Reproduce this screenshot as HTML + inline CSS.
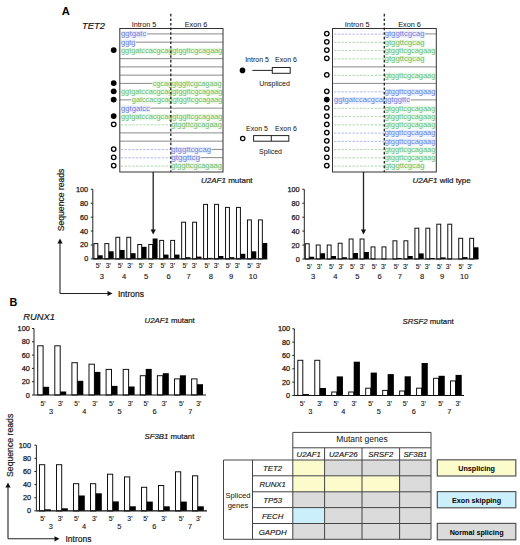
<!DOCTYPE html>
<html><head><meta charset="utf-8"><style>
html,body{margin:0;padding:0;background:#fff;}
body{width:520px;height:545px;overflow:hidden;}
svg{display:block;}
text{font-family:"Liberation Sans", sans-serif;}
.tk{stroke:#222;stroke-width:0.25px;}
.lb{stroke:#222;stroke-width:0.12px;}
.s2{stroke:#222;stroke-width:0.2px;}
.tb{stroke:#222;stroke-width:0.15px;}
</style></head><body>
<svg width="520" height="545" viewBox="0 0 520 545">
<rect width="520" height="545" fill="#fff"/>
<text x="61.8" y="14.7" text-anchor="start" style="font-size:11.2px;font-weight:bold;" fill="#000" font-family='"Liberation Sans", sans-serif' >A</text>
<text x="82" y="29" text-anchor="start" style="font-size:9.4px;font-style:italic;" fill="#111" font-family='"Liberation Sans", sans-serif' class="s2">TET2</text>
<rect x="120.7" y="31.2" width="25.64" height="6.6" fill="#e8ebfa"/>
<text x="121.0" y="36.3" fill="#6d84da" style="font-size:6.4px" font-family='"Liberation Mono", monospace' textLength="25.34" lengthAdjust="spacingAndGlyphs">ggtgatc</text>
<line x1="146.84" y1="33.9" x2="223" y2="33.9" stroke="#8a8a8a" stroke-width="1"/>
<rect x="120.7" y="39.449999999999996" width="14.780000000000001" height="6.6" fill="#e8ebfa"/>
<text x="121.0" y="44.55" fill="#6d84da" style="font-size:6.4px" font-family='"Liberation Mono", monospace' textLength="14.48" lengthAdjust="spacingAndGlyphs">ggtg</text>
<line x1="135.98" y1="42.15" x2="223" y2="42.15" stroke="#8a8a8a" stroke-width="1"/>
<rect x="120.7" y="47.699999999999996" width="101.66" height="6.6" fill="#eaf7e8"/>
<text x="121.0" y="52.8" fill="#70be6c" style="font-size:6.4px" font-family='"Liberation Mono", monospace' textLength="101.36" lengthAdjust="spacingAndGlyphs">ggtgatccacgcaggtggttcgcagaag</text>
<line x1="119.8" y1="58.65" x2="223" y2="58.65" stroke="#8a8a8a" stroke-width="1"/>
<line x1="119.8" y1="66.9" x2="223" y2="66.9" stroke="#8a8a8a" stroke-width="1"/>
<line x1="119.8" y1="75.15" x2="223" y2="75.15" stroke="#8a8a8a" stroke-width="1"/>
<line x1="119.8" y1="83.4" x2="153.00000000000003" y2="83.4" stroke="#8a8a8a" stroke-width="1"/>
<rect x="152.4" y="80.7" width="69.08" height="6.6" fill="#eaf7e8"/>
<text x="152.70000000000002" y="85.80000000000001" fill="#70be6c" style="font-size:6.4px" font-family='"Liberation Mono", monospace' textLength="68.78" lengthAdjust="spacingAndGlyphs">cgcaggtggttcgcagaag</text>
<rect x="120.7" y="88.95" width="101.66" height="6.6" fill="#eaf7e8"/>
<text x="121.0" y="94.05000000000001" fill="#70be6c" style="font-size:6.4px" font-family='"Liberation Mono", monospace' textLength="101.36" lengthAdjust="spacingAndGlyphs">ggtgatccacgcaggtggttcgcagaag</text>
<line x1="119.8" y1="99.9" x2="131.36" y2="99.9" stroke="#8a8a8a" stroke-width="1"/>
<rect x="131.56" y="97.2" width="90.8" height="6.6" fill="#eaf7e8"/>
<text x="131.86" y="102.30000000000001" fill="#70be6c" style="font-size:6.4px" font-family='"Liberation Mono", monospace' textLength="90.5" lengthAdjust="spacingAndGlyphs">gatccacgcaggtggttcgcagaag</text>
<rect x="120.7" y="105.45" width="29.26" height="6.6" fill="#e8ebfa"/>
<text x="121.0" y="110.55000000000001" fill="#6d84da" style="font-size:6.4px" font-family='"Liberation Mono", monospace' textLength="28.96" lengthAdjust="spacingAndGlyphs">ggtgatcc</text>
<line x1="150.46" y1="108.15" x2="223" y2="108.15" stroke="#8a8a8a" stroke-width="1"/>
<rect x="120.7" y="113.7" width="101.66" height="6.6" fill="#eaf7e8"/>
<text x="121.0" y="118.80000000000001" fill="#70be6c" style="font-size:6.4px" font-family='"Liberation Mono", monospace' textLength="101.36" lengthAdjust="spacingAndGlyphs">ggtgatccacgcaggtggttcgcagaag</text>
<line x1="121.0" y1="124.85000000000001" x2="170.3" y2="124.85000000000001" stroke="#70be6c" stroke-width="0.8" stroke-dasharray="2.4,1.3" opacity="0.7"/>
<rect x="170.9" y="121.95" width="50.98" height="6.6" fill="#eaf7e8"/>
<text x="171.20000000000002" y="127.05000000000001" fill="#70be6c" style="font-size:6.4px" font-family='"Liberation Mono", monospace' textLength="50.68" lengthAdjust="spacingAndGlyphs">gtggttcgcagaag</text>
<line x1="119.8" y1="132.9" x2="223" y2="132.9" stroke="#8a8a8a" stroke-width="1"/>
<line x1="119.8" y1="141.15" x2="223" y2="141.15" stroke="#8a8a8a" stroke-width="1"/>
<line x1="121.0" y1="149.6" x2="170.3" y2="149.6" stroke="#6d84da" stroke-width="0.8" stroke-dasharray="2.4,1.3" opacity="0.7"/>
<rect x="170.9" y="146.70000000000002" width="40.12" height="6.6" fill="#e8ebfa"/>
<text x="171.20000000000002" y="151.8" fill="#6d84da" style="font-size:6.4px" font-family='"Liberation Mono", monospace' textLength="39.82" lengthAdjust="spacingAndGlyphs">gtggttcgcag</text>
<line x1="211.52" y1="149.4" x2="223" y2="149.4" stroke="#8a8a8a" stroke-width="1"/>
<line x1="121.0" y1="157.85" x2="170.3" y2="157.85" stroke="#6d84da" stroke-width="0.8" stroke-dasharray="2.4,1.3" opacity="0.7"/>
<rect x="170.9" y="154.95000000000002" width="29.26" height="6.6" fill="#e8ebfa"/>
<text x="171.20000000000002" y="160.05" fill="#6d84da" style="font-size:6.4px" font-family='"Liberation Mono", monospace' textLength="28.96" lengthAdjust="spacingAndGlyphs">gtggttcg</text>
<line x1="200.66000000000003" y1="157.65" x2="223" y2="157.65" stroke="#8a8a8a" stroke-width="1"/>
<line x1="121.0" y1="166.1" x2="170.3" y2="166.1" stroke="#70be6c" stroke-width="0.8" stroke-dasharray="2.4,1.3" opacity="0.7"/>
<rect x="170.9" y="163.20000000000002" width="50.98" height="6.6" fill="#eaf7e8"/>
<text x="171.20000000000002" y="168.3" fill="#70be6c" style="font-size:6.4px" font-family='"Liberation Mono", monospace' textLength="50.68" lengthAdjust="spacingAndGlyphs">gtggttcgcagaag</text>
<circle cx="113.7" cy="50.1" r="2.9" fill="#000"/>
<circle cx="113.7" cy="83.10000000000001" r="2.9" fill="#000"/>
<circle cx="113.7" cy="91.35000000000001" r="2.9" fill="#000"/>
<circle cx="113.7" cy="99.60000000000001" r="2.9" fill="#000"/>
<circle cx="113.7" cy="116.10000000000001" r="2.9" fill="#000"/>
<circle cx="113.7" cy="124.35000000000001" r="2.25" fill="#fff" stroke="#000" stroke-width="1.3"/>
<circle cx="113.7" cy="149.1" r="2.25" fill="#fff" stroke="#000" stroke-width="1.3"/>
<circle cx="113.7" cy="157.35" r="2.25" fill="#fff" stroke="#000" stroke-width="1.3"/>
<circle cx="113.7" cy="165.6" r="2.25" fill="#fff" stroke="#000" stroke-width="1.3"/>
<rect x="119.8" y="28.5" width="103.2" height="143.5" fill="none" stroke="#333" stroke-width="1"/>
<line x1="170.8" y1="13.8" x2="170.8" y2="172" stroke="#222" stroke-width="1.3" stroke-dasharray="2.6,2.0"/>
<text x="144" y="26.7" text-anchor="middle" style="font-size:7.3px;" fill="#111" font-family='"Liberation Sans", sans-serif' >Intron 5</text>
<text x="196" y="26.7" text-anchor="middle" style="font-size:7.3px;" fill="#111" font-family='"Liberation Sans", sans-serif' >Exon 6</text>
<line x1="334.0" y1="34.1" x2="383.8" y2="34.1" stroke="#6d84da" stroke-width="0.8" stroke-dasharray="2.4,1.3" opacity="0.7"/>
<rect x="384.4" y="31.2" width="40.12" height="6.6" fill="#e8ebfa"/>
<text x="384.7" y="36.3" fill="#6d84da" style="font-size:6.4px" font-family='"Liberation Mono", monospace' textLength="39.82" lengthAdjust="spacingAndGlyphs">gtggttcgcag</text>
<line x1="425.02" y1="33.9" x2="436.3" y2="33.9" stroke="#8a8a8a" stroke-width="1"/>
<line x1="334.0" y1="42.35" x2="383.8" y2="42.35" stroke="#70be6c" stroke-width="0.8" stroke-dasharray="2.4,1.3" opacity="0.7"/>
<rect x="384.4" y="39.449999999999996" width="40.12" height="6.6" fill="#eaf7e8"/>
<text x="384.7" y="44.55" fill="#70be6c" style="font-size:6.4px" font-family='"Liberation Mono", monospace' textLength="39.82" lengthAdjust="spacingAndGlyphs">gtggttcgcag</text>
<line x1="334.0" y1="50.6" x2="383.8" y2="50.6" stroke="#70be6c" stroke-width="0.8" stroke-dasharray="2.4,1.3" opacity="0.7"/>
<rect x="384.4" y="47.699999999999996" width="50.98" height="6.6" fill="#eaf7e8"/>
<text x="384.7" y="52.8" fill="#70be6c" style="font-size:6.4px" font-family='"Liberation Mono", monospace' textLength="50.68" lengthAdjust="spacingAndGlyphs">gtggttcgcagaag</text>
<line x1="334.0" y1="58.85" x2="383.8" y2="58.85" stroke="#70be6c" stroke-width="0.8" stroke-dasharray="2.4,1.3" opacity="0.7"/>
<rect x="384.4" y="55.949999999999996" width="40.12" height="6.6" fill="#eaf7e8"/>
<text x="384.7" y="61.05" fill="#70be6c" style="font-size:6.4px" font-family='"Liberation Mono", monospace' textLength="39.82" lengthAdjust="spacingAndGlyphs">gtggttcgcag</text>
<line x1="332.5" y1="66.9" x2="436.3" y2="66.9" stroke="#8a8a8a" stroke-width="1"/>
<line x1="334.0" y1="75.35000000000001" x2="383.8" y2="75.35000000000001" stroke="#70be6c" stroke-width="0.8" stroke-dasharray="2.4,1.3" opacity="0.7"/>
<rect x="384.4" y="72.45" width="50.98" height="6.6" fill="#eaf7e8"/>
<text x="384.7" y="77.55000000000001" fill="#70be6c" style="font-size:6.4px" font-family='"Liberation Mono", monospace' textLength="50.68" lengthAdjust="spacingAndGlyphs">gtggttcgcagaag</text>
<line x1="332.5" y1="83.4" x2="436.3" y2="83.4" stroke="#8a8a8a" stroke-width="1"/>
<line x1="334.0" y1="91.85000000000001" x2="383.8" y2="91.85000000000001" stroke="#6d84da" stroke-width="0.8" stroke-dasharray="2.4,1.3" opacity="0.7"/>
<rect x="384.4" y="88.95" width="50.98" height="6.6" fill="#e8ebfa"/>
<text x="384.7" y="94.05000000000001" fill="#6d84da" style="font-size:6.4px" font-family='"Liberation Mono", monospace' textLength="50.68" lengthAdjust="spacingAndGlyphs">gtggttcgcagaag</text>
<rect x="333.7" y="97.2" width="76.32" height="6.6" fill="#e8ebfa"/>
<text x="334.0" y="102.30000000000001" fill="#6d84da" style="font-size:6.4px" font-family='"Liberation Mono", monospace' textLength="76.02" lengthAdjust="spacingAndGlyphs">ggtgatccacgcaggtggttc</text>
<line x1="410.52" y1="99.9" x2="436.3" y2="99.9" stroke="#8a8a8a" stroke-width="1"/>
<line x1="334.0" y1="108.35000000000001" x2="383.8" y2="108.35000000000001" stroke="#70be6c" stroke-width="0.8" stroke-dasharray="2.4,1.3" opacity="0.7"/>
<rect x="384.4" y="105.45" width="50.98" height="6.6" fill="#eaf7e8"/>
<text x="384.7" y="110.55000000000001" fill="#70be6c" style="font-size:6.4px" font-family='"Liberation Mono", monospace' textLength="50.68" lengthAdjust="spacingAndGlyphs">gtggttcgcagaag</text>
<line x1="334.0" y1="116.60000000000001" x2="383.8" y2="116.60000000000001" stroke="#70be6c" stroke-width="0.8" stroke-dasharray="2.4,1.3" opacity="0.7"/>
<rect x="384.4" y="113.7" width="50.98" height="6.6" fill="#eaf7e8"/>
<text x="384.7" y="118.80000000000001" fill="#70be6c" style="font-size:6.4px" font-family='"Liberation Mono", monospace' textLength="50.68" lengthAdjust="spacingAndGlyphs">gtggttcgcagaag</text>
<line x1="334.0" y1="124.85000000000001" x2="383.8" y2="124.85000000000001" stroke="#70be6c" stroke-width="0.8" stroke-dasharray="2.4,1.3" opacity="0.7"/>
<rect x="384.4" y="121.95" width="50.98" height="6.6" fill="#eaf7e8"/>
<text x="384.7" y="127.05000000000001" fill="#70be6c" style="font-size:6.4px" font-family='"Liberation Mono", monospace' textLength="50.68" lengthAdjust="spacingAndGlyphs">gtggttcgcagaag</text>
<line x1="334.0" y1="133.1" x2="383.8" y2="133.1" stroke="#6d84da" stroke-width="0.8" stroke-dasharray="2.4,1.3" opacity="0.7"/>
<rect x="384.4" y="130.20000000000002" width="50.98" height="6.6" fill="#e8ebfa"/>
<text x="384.7" y="135.3" fill="#6d84da" style="font-size:6.4px" font-family='"Liberation Mono", monospace' textLength="50.68" lengthAdjust="spacingAndGlyphs">gtggttcgcagaag</text>
<line x1="334.0" y1="141.35" x2="383.8" y2="141.35" stroke="#6d84da" stroke-width="0.8" stroke-dasharray="2.4,1.3" opacity="0.7"/>
<rect x="384.4" y="138.45000000000002" width="50.98" height="6.6" fill="#e8ebfa"/>
<text x="384.7" y="143.55" fill="#6d84da" style="font-size:6.4px" font-family='"Liberation Mono", monospace' textLength="50.68" lengthAdjust="spacingAndGlyphs">gtggttcgcagaag</text>
<line x1="334.0" y1="149.6" x2="383.8" y2="149.6" stroke="#70be6c" stroke-width="0.8" stroke-dasharray="2.4,1.3" opacity="0.7"/>
<rect x="384.4" y="146.70000000000002" width="50.98" height="6.6" fill="#eaf7e8"/>
<text x="384.7" y="151.8" fill="#70be6c" style="font-size:6.4px" font-family='"Liberation Mono", monospace' textLength="50.68" lengthAdjust="spacingAndGlyphs">gtggttcgcagaag</text>
<line x1="334.0" y1="157.85" x2="383.8" y2="157.85" stroke="#70be6c" stroke-width="0.8" stroke-dasharray="2.4,1.3" opacity="0.7"/>
<rect x="384.4" y="154.95000000000002" width="50.98" height="6.6" fill="#eaf7e8"/>
<text x="384.7" y="160.05" fill="#70be6c" style="font-size:6.4px" font-family='"Liberation Mono", monospace' textLength="50.68" lengthAdjust="spacingAndGlyphs">gtggttcgcagaag</text>
<line x1="334.0" y1="166.1" x2="383.8" y2="166.1" stroke="#70be6c" stroke-width="0.8" stroke-dasharray="2.4,1.3" opacity="0.7"/>
<rect x="384.4" y="163.20000000000002" width="40.12" height="6.6" fill="#eaf7e8"/>
<text x="384.7" y="168.3" fill="#70be6c" style="font-size:6.4px" font-family='"Liberation Mono", monospace' textLength="39.82" lengthAdjust="spacingAndGlyphs">gtggttcgcag</text>
<circle cx="326.8" cy="33.6" r="2.25" fill="#fff" stroke="#000" stroke-width="1.3"/>
<circle cx="326.8" cy="41.85" r="2.25" fill="#fff" stroke="#000" stroke-width="1.3"/>
<circle cx="326.8" cy="50.1" r="2.25" fill="#fff" stroke="#000" stroke-width="1.3"/>
<circle cx="326.8" cy="58.35" r="2.25" fill="#fff" stroke="#000" stroke-width="1.3"/>
<circle cx="326.8" cy="74.85000000000001" r="2.25" fill="#fff" stroke="#000" stroke-width="1.3"/>
<circle cx="326.8" cy="91.35000000000001" r="2.25" fill="#fff" stroke="#000" stroke-width="1.3"/>
<circle cx="326.8" cy="99.60000000000001" r="2.9" fill="#000"/>
<circle cx="326.8" cy="107.85000000000001" r="2.25" fill="#fff" stroke="#000" stroke-width="1.3"/>
<circle cx="326.8" cy="116.10000000000001" r="2.25" fill="#fff" stroke="#000" stroke-width="1.3"/>
<circle cx="326.8" cy="124.35000000000001" r="2.25" fill="#fff" stroke="#000" stroke-width="1.3"/>
<circle cx="326.8" cy="132.6" r="2.25" fill="#fff" stroke="#000" stroke-width="1.3"/>
<circle cx="326.8" cy="140.85" r="2.25" fill="#fff" stroke="#000" stroke-width="1.3"/>
<circle cx="326.8" cy="149.1" r="2.25" fill="#fff" stroke="#000" stroke-width="1.3"/>
<circle cx="326.8" cy="157.35" r="2.25" fill="#fff" stroke="#000" stroke-width="1.3"/>
<circle cx="326.8" cy="165.6" r="2.25" fill="#fff" stroke="#000" stroke-width="1.3"/>
<rect x="332.5" y="28.5" width="103.80000000000001" height="143.5" fill="none" stroke="#333" stroke-width="1"/>
<line x1="384.3" y1="13.8" x2="384.3" y2="172" stroke="#222" stroke-width="1.3" stroke-dasharray="2.6,2.0"/>
<text x="357.2" y="26.7" text-anchor="middle" style="font-size:7.3px;" fill="#111" font-family='"Liberation Sans", sans-serif' >Intron 5</text>
<text x="409.5" y="26.7" text-anchor="middle" style="font-size:7.3px;" fill="#111" font-family='"Liberation Sans", sans-serif' >Exon 6</text>
<text x="257" y="62" text-anchor="middle" style="font-size:7px;" fill="#111" font-family='"Liberation Sans", sans-serif' >Intron 5</text>
<text x="286" y="62" text-anchor="middle" style="font-size:7px;" fill="#111" font-family='"Liberation Sans", sans-serif' >Exon 6</text>
<circle cx="242.5" cy="70.4" r="2.8" fill="#000"/>
<line x1="252.3" y1="70.4" x2="272.3" y2="70.4" stroke="#222" stroke-width="1"/>
<rect x="272.3" y="67.5" width="17.9" height="5.8" fill="none" stroke="#222" stroke-width="1"/>
<text x="274.5" y="86.3" text-anchor="middle" style="font-size:7px;" fill="#111" font-family='"Liberation Sans", sans-serif' >Unspliced</text>
<text x="257" y="130.8" text-anchor="middle" style="font-size:7px;" fill="#111" font-family='"Liberation Sans", sans-serif' >Exon 5</text>
<text x="286" y="130.8" text-anchor="middle" style="font-size:7px;" fill="#111" font-family='"Liberation Sans", sans-serif' >Exon 6</text>
<circle cx="242.7" cy="138.5" r="2.15" fill="#fff" stroke="#000" stroke-width="1.3"/>
<rect x="253.6" y="135.6" width="35.2" height="5.6" fill="none" stroke="#222" stroke-width="1"/>
<line x1="271.3" y1="135.6" x2="271.3" y2="141.2" stroke="#222" stroke-width="1"/>
<text x="270.5" y="154.2" text-anchor="middle" style="font-size:7px;" fill="#111" font-family='"Liberation Sans", sans-serif' >Spliced</text>
<line x1="153.2" y1="172" x2="153.2" y2="230.5" stroke="#222" stroke-width="1.3"/>
<path d="M150.6,229.5 L155.79999999999998,229.5 L153.2,234.5 Z" fill="#111"/>
<line x1="363.5" y1="172" x2="363.5" y2="230.5" stroke="#222" stroke-width="1.3"/>
<path d="M360.9,229.5 L366.1,229.5 L363.5,234.5 Z" fill="#111"/>
<line x1="92.8" y1="189.3" x2="92.8" y2="258.9" stroke="#222" stroke-width="1"/>
<line x1="90.8" y1="258.9" x2="92.8" y2="258.9" stroke="#222" stroke-width="1"/>
<text x="88.2" y="261.4" text-anchor="end" style="font-size:7.3px;" fill="#111" font-family='"Liberation Sans", sans-serif' class="tk">0</text>
<line x1="90.8" y1="244.98" x2="92.8" y2="244.98" stroke="#222" stroke-width="1"/>
<text x="88.2" y="247.48" text-anchor="end" style="font-size:7.3px;" fill="#111" font-family='"Liberation Sans", sans-serif' class="tk">20</text>
<line x1="90.8" y1="231.06" x2="92.8" y2="231.06" stroke="#222" stroke-width="1"/>
<text x="88.2" y="233.56" text-anchor="end" style="font-size:7.3px;" fill="#111" font-family='"Liberation Sans", sans-serif' class="tk">40</text>
<line x1="90.8" y1="217.14" x2="92.8" y2="217.14" stroke="#222" stroke-width="1"/>
<text x="88.2" y="219.64" text-anchor="end" style="font-size:7.3px;" fill="#111" font-family='"Liberation Sans", sans-serif' class="tk">60</text>
<line x1="90.8" y1="203.22" x2="92.8" y2="203.22" stroke="#222" stroke-width="1"/>
<text x="88.2" y="205.72" text-anchor="end" style="font-size:7.3px;" fill="#111" font-family='"Liberation Sans", sans-serif' class="tk">80</text>
<line x1="90.8" y1="189.3" x2="92.8" y2="189.3" stroke="#222" stroke-width="1"/>
<text x="88.2" y="191.8" text-anchor="end" style="font-size:7.3px;" fill="#111" font-family='"Liberation Sans", sans-serif' class="tk">100</text>
<rect x="93.9" y="243.59999999999997" width="3.9000000000000004" height="15.3" fill="#fff" stroke="#111" stroke-width="1"/>
<rect x="97.80000000000001" y="255.29999999999998" width="4.9" height="3.6" fill="#000"/>
<text x="98.2" y="268.4" text-anchor="middle" style="font-size:6.8px;" fill="#111" font-family='"Liberation Sans", sans-serif' class="lb">5'</text>
<rect x="104.87" y="243.59999999999997" width="3.9000000000000004" height="15.3" fill="#fff" stroke="#111" stroke-width="1"/>
<rect x="108.77000000000001" y="251.29999999999998" width="4.9" height="7.6" fill="#000"/>
<text x="108.2" y="268.4" text-anchor="middle" style="font-size:6.8px;" fill="#111" font-family='"Liberation Sans", sans-serif' class="lb">3'</text>
<rect x="115.84" y="237.29999999999998" width="3.9000000000000004" height="21.6" fill="#fff" stroke="#111" stroke-width="1"/>
<rect x="119.74000000000001" y="249.99999999999997" width="4.9" height="8.9" fill="#000"/>
<text x="120.3" y="268.4" text-anchor="middle" style="font-size:6.8px;" fill="#111" font-family='"Liberation Sans", sans-serif' class="lb">5'</text>
<rect x="126.81" y="237.29999999999998" width="3.9000000000000004" height="21.6" fill="#fff" stroke="#111" stroke-width="1"/>
<rect x="130.71" y="253.2" width="4.9" height="5.7" fill="#000"/>
<text x="129.9" y="268.4" text-anchor="middle" style="font-size:6.8px;" fill="#111" font-family='"Liberation Sans", sans-serif' class="lb">3'</text>
<rect x="137.78" y="244.49999999999997" width="3.9000000000000004" height="14.4" fill="#fff" stroke="#111" stroke-width="1"/>
<rect x="141.68" y="246.79999999999998" width="4.9" height="12.1" fill="#000"/>
<text x="141.3" y="268.4" text-anchor="middle" style="font-size:6.8px;" fill="#111" font-family='"Liberation Sans", sans-serif' class="lb">5'</text>
<rect x="148.75" y="244.49999999999997" width="3.9000000000000004" height="14.4" fill="#fff" stroke="#111" stroke-width="1"/>
<rect x="152.65" y="238.49999999999997" width="4.9" height="20.4" fill="#000"/>
<text x="151.1" y="268.4" text-anchor="middle" style="font-size:6.8px;" fill="#111" font-family='"Liberation Sans", sans-serif' class="lb">3'</text>
<rect x="159.72000000000003" y="240.39999999999998" width="3.9000000000000004" height="18.5" fill="#fff" stroke="#111" stroke-width="1"/>
<rect x="163.62000000000003" y="254.59999999999997" width="4.9" height="4.3" fill="#000"/>
<text x="163" y="268.4" text-anchor="middle" style="font-size:6.8px;" fill="#111" font-family='"Liberation Sans", sans-serif' class="lb">5'</text>
<rect x="170.69" y="240.39999999999998" width="3.9000000000000004" height="18.5" fill="#fff" stroke="#111" stroke-width="1"/>
<rect x="174.59" y="254.59999999999997" width="4.9" height="4.3" fill="#000"/>
<text x="172.4" y="268.4" text-anchor="middle" style="font-size:6.8px;" fill="#111" font-family='"Liberation Sans", sans-serif' class="lb">3'</text>
<rect x="181.66000000000003" y="222.2" width="3.9000000000000004" height="36.7" fill="#fff" stroke="#111" stroke-width="1"/>
<rect x="185.56000000000003" y="257.2" width="4.9" height="1.7" fill="#000"/>
<text x="185.1" y="268.4" text-anchor="middle" style="font-size:6.8px;" fill="#111" font-family='"Liberation Sans", sans-serif' class="lb">5'</text>
<rect x="192.63" y="222.2" width="3.9000000000000004" height="36.7" fill="#fff" stroke="#111" stroke-width="1"/>
<rect x="196.53" y="256.59999999999997" width="4.9" height="2.3" fill="#000"/>
<text x="194.4" y="268.4" text-anchor="middle" style="font-size:6.8px;" fill="#111" font-family='"Liberation Sans", sans-serif' class="lb">3'</text>
<rect x="203.60000000000002" y="204.39999999999998" width="3.9000000000000004" height="54.5" fill="#fff" stroke="#111" stroke-width="1"/>
<rect x="207.50000000000003" y="257.9" width="4.9" height="1.0" fill="#000"/>
<text x="207" y="268.4" text-anchor="middle" style="font-size:6.8px;" fill="#111" font-family='"Liberation Sans", sans-serif' class="lb">5'</text>
<rect x="214.57" y="204.39999999999998" width="3.9000000000000004" height="54.5" fill="#fff" stroke="#111" stroke-width="1"/>
<rect x="218.47" y="255.99999999999997" width="4.9" height="2.9" fill="#000"/>
<text x="216.2" y="268.4" text-anchor="middle" style="font-size:6.8px;" fill="#111" font-family='"Liberation Sans", sans-serif' class="lb">3'</text>
<rect x="225.54000000000002" y="207.39999999999998" width="3.9000000000000004" height="51.5" fill="#fff" stroke="#111" stroke-width="1"/>
<rect x="229.44000000000003" y="257.2" width="4.9" height="1.7" fill="#000"/>
<text x="228.3" y="268.4" text-anchor="middle" style="font-size:6.8px;" fill="#111" font-family='"Liberation Sans", sans-serif' class="lb">5'</text>
<rect x="236.51000000000002" y="207.39999999999998" width="3.9000000000000004" height="51.5" fill="#fff" stroke="#111" stroke-width="1"/>
<rect x="240.41000000000003" y="253.79999999999998" width="4.9" height="5.1" fill="#000"/>
<text x="237.2" y="268.4" text-anchor="middle" style="font-size:6.8px;" fill="#111" font-family='"Liberation Sans", sans-serif' class="lb">3'</text>
<rect x="247.48000000000002" y="219.89999999999998" width="3.9000000000000004" height="39" fill="#fff" stroke="#111" stroke-width="1"/>
<rect x="251.38000000000002" y="251.29999999999998" width="4.9" height="7.6" fill="#000"/>
<text x="249.9" y="268.4" text-anchor="middle" style="font-size:6.8px;" fill="#111" font-family='"Liberation Sans", sans-serif' class="lb">5'</text>
<rect x="258.45000000000005" y="219.89999999999998" width="3.9000000000000004" height="39" fill="#fff" stroke="#111" stroke-width="1"/>
<rect x="262.35" y="242.99999999999997" width="4.9" height="15.9" fill="#000"/>
<text x="258.6" y="268.4" text-anchor="middle" style="font-size:6.8px;" fill="#111" font-family='"Liberation Sans", sans-serif' class="lb">3'</text>
<line x1="92.8" y1="258.9" x2="267.25" y2="258.9" stroke="#111" stroke-width="1.2"/>
<text x="101.8" y="278.5" text-anchor="middle" style="font-size:7.6px;" fill="#111" font-family='"Liberation Sans", sans-serif' class="lb">3</text>
<text x="124.1" y="278.5" text-anchor="middle" style="font-size:7.6px;" fill="#111" font-family='"Liberation Sans", sans-serif' class="lb">4</text>
<text x="146.2" y="278.5" text-anchor="middle" style="font-size:7.6px;" fill="#111" font-family='"Liberation Sans", sans-serif' class="lb">5</text>
<text x="168.5" y="278.5" text-anchor="middle" style="font-size:7.6px;" fill="#111" font-family='"Liberation Sans", sans-serif' class="lb">6</text>
<text x="188.7" y="278.5" text-anchor="middle" style="font-size:7.6px;" fill="#111" font-family='"Liberation Sans", sans-serif' class="lb">7</text>
<text x="210.8" y="278.5" text-anchor="middle" style="font-size:7.6px;" fill="#111" font-family='"Liberation Sans", sans-serif' class="lb">8</text>
<text x="231" y="278.5" text-anchor="middle" style="font-size:7.6px;" fill="#111" font-family='"Liberation Sans", sans-serif' class="lb">9</text>
<text x="253" y="278.5" text-anchor="middle" style="font-size:7.6px;" fill="#111" font-family='"Liberation Sans", sans-serif' class="lb">10</text>
<line x1="304.3" y1="189.3" x2="304.3" y2="259.0" stroke="#222" stroke-width="1"/>
<line x1="302.3" y1="259.0" x2="304.3" y2="259.0" stroke="#222" stroke-width="1"/>
<text x="299.7" y="261.5" text-anchor="end" style="font-size:7.3px;" fill="#111" font-family='"Liberation Sans", sans-serif' class="tk">0</text>
<line x1="302.3" y1="245.06" x2="304.3" y2="245.06" stroke="#222" stroke-width="1"/>
<text x="299.7" y="247.56" text-anchor="end" style="font-size:7.3px;" fill="#111" font-family='"Liberation Sans", sans-serif' class="tk">20</text>
<line x1="302.3" y1="231.12" x2="304.3" y2="231.12" stroke="#222" stroke-width="1"/>
<text x="299.7" y="233.62" text-anchor="end" style="font-size:7.3px;" fill="#111" font-family='"Liberation Sans", sans-serif' class="tk">40</text>
<line x1="302.3" y1="217.18" x2="304.3" y2="217.18" stroke="#222" stroke-width="1"/>
<text x="299.7" y="219.68" text-anchor="end" style="font-size:7.3px;" fill="#111" font-family='"Liberation Sans", sans-serif' class="tk">60</text>
<line x1="302.3" y1="203.24" x2="304.3" y2="203.24" stroke="#222" stroke-width="1"/>
<text x="299.7" y="205.74" text-anchor="end" style="font-size:7.3px;" fill="#111" font-family='"Liberation Sans", sans-serif' class="tk">80</text>
<line x1="302.3" y1="189.3" x2="304.3" y2="189.3" stroke="#222" stroke-width="1"/>
<text x="299.7" y="191.8" text-anchor="end" style="font-size:7.3px;" fill="#111" font-family='"Liberation Sans", sans-serif' class="tk">100</text>
<rect x="305.3" y="243.75" width="3.9000000000000004" height="15.25" fill="#fff" stroke="#111" stroke-width="1"/>
<rect x="309.2" y="256.75" width="4.9" height="2.25" fill="#000"/>
<text x="309.4" y="268.8" text-anchor="middle" style="font-size:6.8px;" fill="#111" font-family='"Liberation Sans", sans-serif' class="lb">5'</text>
<rect x="316.26" y="245.0" width="3.9000000000000004" height="14" fill="#fff" stroke="#111" stroke-width="1"/>
<rect x="320.15999999999997" y="253.25" width="4.9" height="5.75" fill="#000"/>
<text x="319.4" y="268.8" text-anchor="middle" style="font-size:6.8px;" fill="#111" font-family='"Liberation Sans", sans-serif' class="lb">3'</text>
<rect x="327.22" y="245.0" width="3.9000000000000004" height="14" fill="#fff" stroke="#111" stroke-width="1"/>
<rect x="331.12" y="256.0" width="4.9" height="3" fill="#000"/>
<text x="331.5" y="268.8" text-anchor="middle" style="font-size:6.8px;" fill="#111" font-family='"Liberation Sans", sans-serif' class="lb">5'</text>
<rect x="338.18" y="243.25" width="3.9000000000000004" height="15.75" fill="#fff" stroke="#111" stroke-width="1"/>
<rect x="342.08" y="257.25" width="4.9" height="1.75" fill="#000"/>
<text x="341.1" y="268.8" text-anchor="middle" style="font-size:6.8px;" fill="#111" font-family='"Liberation Sans", sans-serif' class="lb">3'</text>
<rect x="349.14" y="239.0" width="3.9000000000000004" height="20" fill="#fff" stroke="#111" stroke-width="1"/>
<rect x="353.03999999999996" y="253.0" width="4.9" height="6" fill="#000"/>
<text x="352.5" y="268.8" text-anchor="middle" style="font-size:6.8px;" fill="#111" font-family='"Liberation Sans", sans-serif' class="lb">5'</text>
<rect x="360.1" y="239.0" width="3.9000000000000004" height="20" fill="#fff" stroke="#111" stroke-width="1"/>
<rect x="364.0" y="252.0" width="4.9" height="7" fill="#000"/>
<text x="362.29999999999995" y="268.8" text-anchor="middle" style="font-size:6.8px;" fill="#111" font-family='"Liberation Sans", sans-serif' class="lb">3'</text>
<rect x="371.06" y="246.9" width="3.9000000000000004" height="12.1" fill="#fff" stroke="#111" stroke-width="1"/>
<text x="374.2" y="268.8" text-anchor="middle" style="font-size:6.8px;" fill="#111" font-family='"Liberation Sans", sans-serif' class="lb">5'</text>
<rect x="382.02" y="246.9" width="3.9000000000000004" height="12.1" fill="#fff" stroke="#111" stroke-width="1"/>
<text x="383.6" y="268.8" text-anchor="middle" style="font-size:6.8px;" fill="#111" font-family='"Liberation Sans", sans-serif' class="lb">3'</text>
<rect x="392.98" y="240.8" width="3.9000000000000004" height="18.2" fill="#fff" stroke="#111" stroke-width="1"/>
<rect x="396.88" y="258.0" width="4.9" height="1" fill="#000"/>
<text x="396.29999999999995" y="268.8" text-anchor="middle" style="font-size:6.8px;" fill="#111" font-family='"Liberation Sans", sans-serif' class="lb">5'</text>
<rect x="403.94000000000005" y="240.8" width="3.9000000000000004" height="18.2" fill="#fff" stroke="#111" stroke-width="1"/>
<rect x="407.84000000000003" y="256.0" width="4.9" height="3" fill="#000"/>
<text x="405.6" y="268.8" text-anchor="middle" style="font-size:6.8px;" fill="#111" font-family='"Liberation Sans", sans-serif' class="lb">3'</text>
<rect x="414.90000000000003" y="228.2" width="3.9000000000000004" height="30.8" fill="#fff" stroke="#111" stroke-width="1"/>
<rect x="418.8" y="253.4" width="4.9" height="5.6" fill="#000"/>
<text x="418.2" y="268.8" text-anchor="middle" style="font-size:6.8px;" fill="#111" font-family='"Liberation Sans", sans-serif' class="lb">5'</text>
<rect x="425.86" y="228.2" width="3.9000000000000004" height="30.8" fill="#fff" stroke="#111" stroke-width="1"/>
<rect x="429.76" y="258.0" width="4.9" height="1" fill="#000"/>
<text x="427.4" y="268.8" text-anchor="middle" style="font-size:6.8px;" fill="#111" font-family='"Liberation Sans", sans-serif' class="lb">3'</text>
<rect x="436.82000000000005" y="224.2" width="3.9000000000000004" height="34.8" fill="#fff" stroke="#111" stroke-width="1"/>
<rect x="440.72" y="257.4" width="4.9" height="1.6" fill="#000"/>
<text x="439.5" y="268.8" text-anchor="middle" style="font-size:6.8px;" fill="#111" font-family='"Liberation Sans", sans-serif' class="lb">5'</text>
<rect x="447.78000000000003" y="224.2" width="3.9000000000000004" height="34.8" fill="#fff" stroke="#111" stroke-width="1"/>
<text x="448.4" y="268.8" text-anchor="middle" style="font-size:6.8px;" fill="#111" font-family='"Liberation Sans", sans-serif' class="lb">3'</text>
<rect x="458.74" y="238.3" width="3.9000000000000004" height="20.7" fill="#fff" stroke="#111" stroke-width="1"/>
<rect x="462.64" y="257.1" width="4.9" height="1.9" fill="#000"/>
<text x="461.1" y="268.8" text-anchor="middle" style="font-size:6.8px;" fill="#111" font-family='"Liberation Sans", sans-serif' class="lb">5'</text>
<rect x="469.70000000000005" y="238.3" width="3.9000000000000004" height="20.7" fill="#fff" stroke="#111" stroke-width="1"/>
<rect x="473.6" y="247.3" width="4.9" height="11.7" fill="#000"/>
<text x="469.8" y="268.8" text-anchor="middle" style="font-size:6.8px;" fill="#111" font-family='"Liberation Sans", sans-serif' class="lb">3'</text>
<line x1="304.3" y1="259.0" x2="478.5" y2="259.0" stroke="#111" stroke-width="1.2"/>
<text x="313.0" y="278.5" text-anchor="middle" style="font-size:7.6px;" fill="#111" font-family='"Liberation Sans", sans-serif' class="lb">3</text>
<text x="335.29999999999995" y="278.5" text-anchor="middle" style="font-size:7.6px;" fill="#111" font-family='"Liberation Sans", sans-serif' class="lb">4</text>
<text x="357.4" y="278.5" text-anchor="middle" style="font-size:7.6px;" fill="#111" font-family='"Liberation Sans", sans-serif' class="lb">5</text>
<text x="379.7" y="278.5" text-anchor="middle" style="font-size:7.6px;" fill="#111" font-family='"Liberation Sans", sans-serif' class="lb">6</text>
<text x="399.9" y="278.5" text-anchor="middle" style="font-size:7.6px;" fill="#111" font-family='"Liberation Sans", sans-serif' class="lb">7</text>
<text x="422.0" y="278.5" text-anchor="middle" style="font-size:7.6px;" fill="#111" font-family='"Liberation Sans", sans-serif' class="lb">8</text>
<text x="442.2" y="278.5" text-anchor="middle" style="font-size:7.6px;" fill="#111" font-family='"Liberation Sans", sans-serif' class="lb">9</text>
<text x="464.2" y="278.5" text-anchor="middle" style="font-size:7.6px;" fill="#111" font-family='"Liberation Sans", sans-serif' class="lb">10</text>
<text class="s2" x="201" y="182.9" style="font-size:8px" font-family='"Liberation Sans", sans-serif' fill="#111"><tspan font-style="italic">U2AF1</tspan> mutant</text>
<text class="s2" x="412.5" y="182.6" style="font-size:8px" font-family='"Liberation Sans", sans-serif' fill="#111"><tspan font-style="italic">U2AF1</tspan> wild type</text>
<text class="s2" transform="translate(63.8,231.2) rotate(-90)" style="font-size:8.6px" font-family='"Liberation Sans", sans-serif' fill="#111">Sequence reads</text>
<line x1="60" y1="293.5" x2="60" y2="242.5" stroke="#222" stroke-width="1.1"/>
<path d="M57.4,243.5 L62.6,243.5 L60,238.5 Z" fill="#111"/>
<line x1="60" y1="293.5" x2="108.5" y2="293.5" stroke="#222" stroke-width="1.1"/>
<path d="M107.5,290.9 L107.5,296.1 L112.5,293.5 Z" fill="#111"/>
<text x="118" y="297" text-anchor="start" style="font-size:8.5px;" fill="#111" font-family='"Liberation Sans", sans-serif' class="s2">Introns</text>
<text x="9.4" y="305.7" text-anchor="start" style="font-size:10.8px;font-weight:bold;" fill="#000" font-family='"Liberation Sans", sans-serif' >B</text>
<text x="23.2" y="319.5" text-anchor="start" style="font-size:9.4px;font-style:italic;" fill="#111" font-family='"Liberation Sans", sans-serif' class="s2">RUNX1</text>
<line x1="34.0" y1="328.5" x2="34.0" y2="395.0" stroke="#222" stroke-width="1"/>
<line x1="32.0" y1="395.0" x2="34.0" y2="395.0" stroke="#222" stroke-width="1"/>
<text x="29.8" y="397.5" text-anchor="end" style="font-size:7.3px;" fill="#111" font-family='"Liberation Sans", sans-serif' class="tk">0</text>
<line x1="32.0" y1="381.7" x2="34.0" y2="381.7" stroke="#222" stroke-width="1"/>
<text x="29.8" y="384.2" text-anchor="end" style="font-size:7.3px;" fill="#111" font-family='"Liberation Sans", sans-serif' class="tk">20</text>
<line x1="32.0" y1="368.4" x2="34.0" y2="368.4" stroke="#222" stroke-width="1"/>
<text x="29.8" y="370.9" text-anchor="end" style="font-size:7.3px;" fill="#111" font-family='"Liberation Sans", sans-serif' class="tk">40</text>
<line x1="32.0" y1="355.1" x2="34.0" y2="355.1" stroke="#222" stroke-width="1"/>
<text x="29.8" y="357.6" text-anchor="end" style="font-size:7.3px;" fill="#111" font-family='"Liberation Sans", sans-serif' class="tk">60</text>
<line x1="32.0" y1="341.8" x2="34.0" y2="341.8" stroke="#222" stroke-width="1"/>
<text x="29.8" y="344.3" text-anchor="end" style="font-size:7.3px;" fill="#111" font-family='"Liberation Sans", sans-serif' class="tk">80</text>
<line x1="32.0" y1="328.5" x2="34.0" y2="328.5" stroke="#222" stroke-width="1"/>
<text x="29.8" y="331.0" text-anchor="end" style="font-size:7.3px;" fill="#111" font-family='"Liberation Sans", sans-serif' class="tk">100</text>
<rect x="37.7" y="345.8" width="5.4" height="49.2" fill="#fff" stroke="#111" stroke-width="1"/>
<rect x="43.1" y="386.8" width="6.0" height="8.2" fill="#000"/>
<text x="43" y="405.5" text-anchor="middle" style="font-size:6.8px;" fill="#111" font-family='"Liberation Sans", sans-serif' class="lb">5'</text>
<rect x="54.800000000000004" y="345.8" width="5.4" height="49.2" fill="#fff" stroke="#111" stroke-width="1"/>
<rect x="60.2" y="391.5" width="6.0" height="3.5" fill="#000"/>
<text x="60.5" y="405.5" text-anchor="middle" style="font-size:6.8px;" fill="#111" font-family='"Liberation Sans", sans-serif' class="lb">3'</text>
<rect x="71.9" y="362.7" width="5.4" height="32.3" fill="#fff" stroke="#111" stroke-width="1"/>
<rect x="77.30000000000001" y="380.8" width="6.0" height="14.2" fill="#000"/>
<text x="76.9" y="405.5" text-anchor="middle" style="font-size:6.8px;" fill="#111" font-family='"Liberation Sans", sans-serif' class="lb">5'</text>
<rect x="89.0" y="364.2" width="5.4" height="30.8" fill="#fff" stroke="#111" stroke-width="1"/>
<rect x="94.4" y="371.9" width="6.0" height="23.1" fill="#000"/>
<text x="94.9" y="405.5" text-anchor="middle" style="font-size:6.8px;" fill="#111" font-family='"Liberation Sans", sans-serif' class="lb">3'</text>
<rect x="106.10000000000001" y="369.4" width="5.4" height="25.6" fill="#fff" stroke="#111" stroke-width="1"/>
<rect x="111.50000000000001" y="385.9" width="6.0" height="9.1" fill="#000"/>
<text x="111.5" y="405.5" text-anchor="middle" style="font-size:6.8px;" fill="#111" font-family='"Liberation Sans", sans-serif' class="lb">5'</text>
<rect x="123.2" y="369.4" width="5.4" height="25.6" fill="#fff" stroke="#111" stroke-width="1"/>
<rect x="128.6" y="386.5" width="6.0" height="8.5" fill="#000"/>
<text x="130.2" y="405.5" text-anchor="middle" style="font-size:6.8px;" fill="#111" font-family='"Liberation Sans", sans-serif' class="lb">3'</text>
<rect x="140.3" y="375.7" width="5.4" height="19.3" fill="#fff" stroke="#111" stroke-width="1"/>
<rect x="145.70000000000002" y="368.9" width="6.0" height="26.1" fill="#000"/>
<text x="146" y="405.5" text-anchor="middle" style="font-size:6.8px;" fill="#111" font-family='"Liberation Sans", sans-serif' class="lb">5'</text>
<rect x="157.40000000000003" y="375.7" width="5.4" height="19.3" fill="#fff" stroke="#111" stroke-width="1"/>
<rect x="162.80000000000004" y="373.2" width="6.0" height="21.8" fill="#000"/>
<text x="164.2" y="405.5" text-anchor="middle" style="font-size:6.8px;" fill="#111" font-family='"Liberation Sans", sans-serif' class="lb">3'</text>
<rect x="174.5" y="378.9" width="5.4" height="16.1" fill="#fff" stroke="#111" stroke-width="1"/>
<rect x="179.9" y="375.3" width="6.0" height="19.7" fill="#000"/>
<text x="181.5" y="405.5" text-anchor="middle" style="font-size:6.8px;" fill="#111" font-family='"Liberation Sans", sans-serif' class="lb">5'</text>
<rect x="191.60000000000002" y="378.9" width="5.4" height="16.1" fill="#fff" stroke="#111" stroke-width="1"/>
<rect x="197.00000000000003" y="384.2" width="6.0" height="10.8" fill="#000"/>
<text x="198.8" y="405.5" text-anchor="middle" style="font-size:6.8px;" fill="#111" font-family='"Liberation Sans", sans-serif' class="lb">3'</text>
<line x1="34.0" y1="395.0" x2="206" y2="395.0" stroke="#111" stroke-width="1.2"/>
<text x="51.1" y="413.9" text-anchor="middle" style="font-size:7.4px;" fill="#111" font-family='"Liberation Sans", sans-serif' class="lb">3</text>
<text x="84.2" y="413.9" text-anchor="middle" style="font-size:7.4px;" fill="#111" font-family='"Liberation Sans", sans-serif' class="lb">4</text>
<text x="119.6" y="413.9" text-anchor="middle" style="font-size:7.4px;" fill="#111" font-family='"Liberation Sans", sans-serif' class="lb">5</text>
<text x="154.6" y="413.9" text-anchor="middle" style="font-size:7.4px;" fill="#111" font-family='"Liberation Sans", sans-serif' class="lb">6</text>
<text x="190.2" y="413.9" text-anchor="middle" style="font-size:7.4px;" fill="#111" font-family='"Liberation Sans", sans-serif' class="lb">7</text>
<text class="s2" x="144.5" y="323.3" style="font-size:7.8px" font-family='"Liberation Sans", sans-serif' fill="#111"><tspan font-style="italic">U2AF1</tspan> mutant</text>
<line x1="294.3" y1="328.8" x2="294.3" y2="395.5" stroke="#222" stroke-width="1"/>
<line x1="292.3" y1="395.5" x2="294.3" y2="395.5" stroke="#222" stroke-width="1"/>
<text x="290.1" y="398.0" text-anchor="end" style="font-size:7.3px;" fill="#111" font-family='"Liberation Sans", sans-serif' class="tk">0</text>
<line x1="292.3" y1="382.16" x2="294.3" y2="382.16" stroke="#222" stroke-width="1"/>
<text x="290.1" y="384.66" text-anchor="end" style="font-size:7.3px;" fill="#111" font-family='"Liberation Sans", sans-serif' class="tk">20</text>
<line x1="292.3" y1="368.82" x2="294.3" y2="368.82" stroke="#222" stroke-width="1"/>
<text x="290.1" y="371.32" text-anchor="end" style="font-size:7.3px;" fill="#111" font-family='"Liberation Sans", sans-serif' class="tk">40</text>
<line x1="292.3" y1="355.48" x2="294.3" y2="355.48" stroke="#222" stroke-width="1"/>
<text x="290.1" y="357.98" text-anchor="end" style="font-size:7.3px;" fill="#111" font-family='"Liberation Sans", sans-serif' class="tk">60</text>
<line x1="292.3" y1="342.14" x2="294.3" y2="342.14" stroke="#222" stroke-width="1"/>
<text x="290.1" y="344.64" text-anchor="end" style="font-size:7.3px;" fill="#111" font-family='"Liberation Sans", sans-serif' class="tk">80</text>
<line x1="292.3" y1="328.8" x2="294.3" y2="328.8" stroke="#222" stroke-width="1"/>
<text x="290.1" y="331.3" text-anchor="end" style="font-size:7.3px;" fill="#111" font-family='"Liberation Sans", sans-serif' class="tk">100</text>
<rect x="297.8" y="360.3" width="5.0" height="35.2" fill="#fff" stroke="#111" stroke-width="1"/>
<rect x="302.8" y="394.1" width="6.2" height="1.4" fill="#000"/>
<text x="302.2" y="405.5" text-anchor="middle" style="font-size:6.8px;" fill="#111" font-family='"Liberation Sans", sans-serif' class="lb">5'</text>
<rect x="314.77" y="360.3" width="5.0" height="35.2" fill="#fff" stroke="#111" stroke-width="1"/>
<rect x="319.77" y="388.0" width="6.2" height="7.5" fill="#000"/>
<text x="319.7" y="405.5" text-anchor="middle" style="font-size:6.8px;" fill="#111" font-family='"Liberation Sans", sans-serif' class="lb">3'</text>
<rect x="331.74" y="392.0" width="5.0" height="3.5" fill="#fff" stroke="#111" stroke-width="1"/>
<rect x="336.74" y="376.4" width="6.2" height="19.1" fill="#000"/>
<text x="336.1" y="405.5" text-anchor="middle" style="font-size:6.8px;" fill="#111" font-family='"Liberation Sans", sans-serif' class="lb">5'</text>
<rect x="348.71000000000004" y="392.0" width="5.0" height="3.5" fill="#fff" stroke="#111" stroke-width="1"/>
<rect x="353.71000000000004" y="361.7" width="6.2" height="33.8" fill="#000"/>
<text x="354.1" y="405.5" text-anchor="middle" style="font-size:6.8px;" fill="#111" font-family='"Liberation Sans", sans-serif' class="lb">3'</text>
<rect x="365.68" y="388.2" width="5.0" height="7.3" fill="#fff" stroke="#111" stroke-width="1"/>
<rect x="370.68" y="372.6" width="6.2" height="22.9" fill="#000"/>
<text x="370.7" y="405.5" text-anchor="middle" style="font-size:6.8px;" fill="#111" font-family='"Liberation Sans", sans-serif' class="lb">5'</text>
<rect x="382.65" y="390.4" width="5.0" height="5.1" fill="#fff" stroke="#111" stroke-width="1"/>
<rect x="387.65" y="374.1" width="6.2" height="21.4" fill="#000"/>
<text x="389.4" y="405.5" text-anchor="middle" style="font-size:6.8px;" fill="#111" font-family='"Liberation Sans", sans-serif' class="lb">3'</text>
<rect x="399.62" y="391.0" width="5.0" height="4.5" fill="#fff" stroke="#111" stroke-width="1"/>
<rect x="404.62" y="376.3" width="6.2" height="19.2" fill="#000"/>
<text x="405.2" y="405.5" text-anchor="middle" style="font-size:6.8px;" fill="#111" font-family='"Liberation Sans", sans-serif' class="lb">5'</text>
<rect x="416.59000000000003" y="388.2" width="5.0" height="7.3" fill="#fff" stroke="#111" stroke-width="1"/>
<rect x="421.59000000000003" y="363.0" width="6.2" height="32.5" fill="#000"/>
<text x="423.4" y="405.5" text-anchor="middle" style="font-size:6.8px;" fill="#111" font-family='"Liberation Sans", sans-serif' class="lb">3'</text>
<rect x="433.56" y="378.3" width="5.0" height="17.2" fill="#fff" stroke="#111" stroke-width="1"/>
<rect x="438.56" y="375.8" width="6.2" height="19.7" fill="#000"/>
<text x="440.7" y="405.5" text-anchor="middle" style="font-size:6.8px;" fill="#111" font-family='"Liberation Sans", sans-serif' class="lb">5'</text>
<rect x="450.53" y="380.9" width="5.0" height="14.6" fill="#fff" stroke="#111" stroke-width="1"/>
<rect x="455.53" y="374.9" width="6.2" height="20.6" fill="#000"/>
<text x="458.0" y="405.5" text-anchor="middle" style="font-size:6.8px;" fill="#111" font-family='"Liberation Sans", sans-serif' class="lb">3'</text>
<line x1="294.3" y1="395.5" x2="464" y2="395.5" stroke="#111" stroke-width="1.2"/>
<text x="310.3" y="413.9" text-anchor="middle" style="font-size:7.4px;" fill="#111" font-family='"Liberation Sans", sans-serif' class="lb">3</text>
<text x="343.4" y="413.9" text-anchor="middle" style="font-size:7.4px;" fill="#111" font-family='"Liberation Sans", sans-serif' class="lb">4</text>
<text x="378.79999999999995" y="413.9" text-anchor="middle" style="font-size:7.4px;" fill="#111" font-family='"Liberation Sans", sans-serif' class="lb">5</text>
<text x="413.79999999999995" y="413.9" text-anchor="middle" style="font-size:7.4px;" fill="#111" font-family='"Liberation Sans", sans-serif' class="lb">6</text>
<text x="449.4" y="413.9" text-anchor="middle" style="font-size:7.4px;" fill="#111" font-family='"Liberation Sans", sans-serif' class="lb">7</text>
<text class="s2" x="402.5" y="324" style="font-size:7.8px" font-family='"Liberation Sans", sans-serif' fill="#111"><tspan font-style="italic">SRSF2</tspan> mutant</text>
<line x1="36.4" y1="445.2" x2="36.4" y2="510.9" stroke="#222" stroke-width="1"/>
<line x1="34.4" y1="510.9" x2="36.4" y2="510.9" stroke="#222" stroke-width="1"/>
<text x="31.0" y="513.4" text-anchor="end" style="font-size:7.3px;" fill="#111" font-family='"Liberation Sans", sans-serif' class="tk">0</text>
<line x1="34.4" y1="497.76" x2="36.4" y2="497.76" stroke="#222" stroke-width="1"/>
<text x="31.0" y="500.26" text-anchor="end" style="font-size:7.3px;" fill="#111" font-family='"Liberation Sans", sans-serif' class="tk">20</text>
<line x1="34.4" y1="484.62" x2="36.4" y2="484.62" stroke="#222" stroke-width="1"/>
<text x="31.0" y="487.12" text-anchor="end" style="font-size:7.3px;" fill="#111" font-family='"Liberation Sans", sans-serif' class="tk">40</text>
<line x1="34.4" y1="471.47999999999996" x2="36.4" y2="471.47999999999996" stroke="#222" stroke-width="1"/>
<text x="31.0" y="473.97999999999996" text-anchor="end" style="font-size:7.3px;" fill="#111" font-family='"Liberation Sans", sans-serif' class="tk">60</text>
<line x1="34.4" y1="458.34" x2="36.4" y2="458.34" stroke="#222" stroke-width="1"/>
<text x="31.0" y="460.84" text-anchor="end" style="font-size:7.3px;" fill="#111" font-family='"Liberation Sans", sans-serif' class="tk">80</text>
<line x1="34.4" y1="445.2" x2="36.4" y2="445.2" stroke="#222" stroke-width="1"/>
<text x="31.0" y="447.7" text-anchor="end" style="font-size:7.3px;" fill="#111" font-family='"Liberation Sans", sans-serif' class="tk">100</text>
<rect x="39.5" y="464.7" width="5.2" height="46.2" fill="#fff" stroke="#111" stroke-width="1"/>
<rect x="44.7" y="509.29999999999995" width="6.1" height="1.6" fill="#000"/>
<text x="42.7" y="520.9" text-anchor="middle" style="font-size:6.8px;" fill="#111" font-family='"Liberation Sans", sans-serif' class="lb">5'</text>
<rect x="56.5" y="464.7" width="5.2" height="46.2" fill="#fff" stroke="#111" stroke-width="1"/>
<rect x="61.7" y="508.29999999999995" width="6.1" height="2.6" fill="#000"/>
<text x="60.2" y="520.9" text-anchor="middle" style="font-size:6.8px;" fill="#111" font-family='"Liberation Sans", sans-serif' class="lb">3'</text>
<rect x="73.5" y="483.7" width="5.2" height="27.2" fill="#fff" stroke="#111" stroke-width="1"/>
<rect x="78.7" y="495.5" width="6.1" height="15.4" fill="#000"/>
<text x="76.60000000000001" y="520.9" text-anchor="middle" style="font-size:6.8px;" fill="#111" font-family='"Liberation Sans", sans-serif' class="lb">5'</text>
<rect x="90.5" y="483.7" width="5.2" height="27.2" fill="#fff" stroke="#111" stroke-width="1"/>
<rect x="95.7" y="493.29999999999995" width="6.1" height="17.6" fill="#000"/>
<text x="94.60000000000001" y="520.9" text-anchor="middle" style="font-size:6.8px;" fill="#111" font-family='"Liberation Sans", sans-serif' class="lb">3'</text>
<rect x="107.5" y="474.2" width="5.2" height="36.7" fill="#fff" stroke="#111" stroke-width="1"/>
<rect x="112.7" y="501.4" width="6.1" height="9.5" fill="#000"/>
<text x="111.2" y="520.9" text-anchor="middle" style="font-size:6.8px;" fill="#111" font-family='"Liberation Sans", sans-serif' class="lb">5'</text>
<rect x="124.5" y="476.9" width="5.2" height="34" fill="#fff" stroke="#111" stroke-width="1"/>
<rect x="129.7" y="506.29999999999995" width="6.1" height="4.6" fill="#000"/>
<text x="129.89999999999998" y="520.9" text-anchor="middle" style="font-size:6.8px;" fill="#111" font-family='"Liberation Sans", sans-serif' class="lb">3'</text>
<rect x="141.5" y="487.29999999999995" width="5.2" height="23.6" fill="#fff" stroke="#111" stroke-width="1"/>
<rect x="146.7" y="501.59999999999997" width="6.1" height="9.3" fill="#000"/>
<text x="145.7" y="520.9" text-anchor="middle" style="font-size:6.8px;" fill="#111" font-family='"Liberation Sans", sans-serif' class="lb">5'</text>
<rect x="158.5" y="485.5" width="5.2" height="25.4" fill="#fff" stroke="#111" stroke-width="1"/>
<rect x="163.7" y="506.29999999999995" width="6.1" height="4.6" fill="#000"/>
<text x="163.89999999999998" y="520.9" text-anchor="middle" style="font-size:6.8px;" fill="#111" font-family='"Liberation Sans", sans-serif' class="lb">3'</text>
<rect x="175.5" y="471.79999999999995" width="5.2" height="39.1" fill="#fff" stroke="#111" stroke-width="1"/>
<rect x="180.7" y="501.59999999999997" width="6.1" height="9.3" fill="#000"/>
<text x="181.2" y="520.9" text-anchor="middle" style="font-size:6.8px;" fill="#111" font-family='"Liberation Sans", sans-serif' class="lb">5'</text>
<rect x="192.5" y="475.79999999999995" width="5.2" height="35.1" fill="#fff" stroke="#111" stroke-width="1"/>
<rect x="197.7" y="506.29999999999995" width="6.1" height="4.6" fill="#000"/>
<text x="198.5" y="520.9" text-anchor="middle" style="font-size:6.8px;" fill="#111" font-family='"Liberation Sans", sans-serif' class="lb">3'</text>
<line x1="36.4" y1="510.9" x2="207" y2="510.9" stroke="#111" stroke-width="1.2"/>
<text x="50.9" y="529.3" text-anchor="middle" style="font-size:7.4px;" fill="#111" font-family='"Liberation Sans", sans-serif' class="lb">3</text>
<text x="84.0" y="529.3" text-anchor="middle" style="font-size:7.4px;" fill="#111" font-family='"Liberation Sans", sans-serif' class="lb">4</text>
<text x="119.39999999999999" y="529.3" text-anchor="middle" style="font-size:7.4px;" fill="#111" font-family='"Liberation Sans", sans-serif' class="lb">5</text>
<text x="154.4" y="529.3" text-anchor="middle" style="font-size:7.4px;" fill="#111" font-family='"Liberation Sans", sans-serif' class="lb">6</text>
<text x="190.0" y="529.3" text-anchor="middle" style="font-size:7.4px;" fill="#111" font-family='"Liberation Sans", sans-serif' class="lb">7</text>
<text class="s2" x="144.5" y="439" style="font-size:7.8px" font-family='"Liberation Sans", sans-serif' fill="#111"><tspan font-style="italic">SF3B1</tspan> mutant</text>
<text class="s2" transform="translate(12.6,477) rotate(-90)" style="font-size:8.7px" font-family='"Liberation Sans", sans-serif' fill="#111">Sequence reads</text>
<line x1="8" y1="538.8" x2="8" y2="486.5" stroke="#222" stroke-width="1.1"/>
<path d="M5.4,487.5 L10.6,487.5 L8,482.5 Z" fill="#111"/>
<line x1="8" y1="538.8" x2="55.5" y2="538.8" stroke="#222" stroke-width="1.1"/>
<path d="M54.5,536.1999999999999 L54.5,541.4 L59.5,538.8 Z" fill="#111"/>
<text x="65.5" y="542" text-anchor="start" style="font-size:8.5px;" fill="#111" font-family='"Liberation Sans", sans-serif' class="s2">Introns</text>
<rect x="292.8" y="460.0" width="31.80000000000001" height="15.800000000000011" fill="#fbfbcb"/>
<rect x="324.6" y="460.0" width="37.39999999999998" height="15.800000000000011" fill="#dbdbdb"/>
<rect x="362.0" y="460.0" width="37.60000000000002" height="15.800000000000011" fill="#dbdbdb"/>
<rect x="399.6" y="460.0" width="31.399999999999977" height="15.800000000000011" fill="#dbdbdb"/>
<rect x="292.8" y="475.8" width="31.80000000000001" height="16.0" fill="#fbfbcb"/>
<rect x="324.6" y="475.8" width="37.39999999999998" height="16.0" fill="#fbfbcb"/>
<rect x="362.0" y="475.8" width="37.60000000000002" height="16.0" fill="#fbfbcb"/>
<rect x="399.6" y="475.8" width="31.399999999999977" height="16.0" fill="#dbdbdb"/>
<rect x="292.8" y="491.8" width="31.80000000000001" height="15.800000000000011" fill="#dbdbdb"/>
<rect x="324.6" y="491.8" width="37.39999999999998" height="15.800000000000011" fill="#dbdbdb"/>
<rect x="362.0" y="491.8" width="37.60000000000002" height="15.800000000000011" fill="#dbdbdb"/>
<rect x="399.6" y="491.8" width="31.399999999999977" height="15.800000000000011" fill="#dbdbdb"/>
<rect x="292.8" y="507.6" width="31.80000000000001" height="15.899999999999977" fill="#ccf0fb"/>
<rect x="324.6" y="507.6" width="37.39999999999998" height="15.899999999999977" fill="#dbdbdb"/>
<rect x="362.0" y="507.6" width="37.60000000000002" height="15.899999999999977" fill="#dbdbdb"/>
<rect x="399.6" y="507.6" width="31.399999999999977" height="15.899999999999977" fill="#dbdbdb"/>
<rect x="292.8" y="523.5" width="31.80000000000001" height="15.799999999999955" fill="#dbdbdb"/>
<rect x="324.6" y="523.5" width="37.39999999999998" height="15.799999999999955" fill="#dbdbdb"/>
<rect x="362.0" y="523.5" width="37.60000000000002" height="15.799999999999955" fill="#dbdbdb"/>
<rect x="399.6" y="523.5" width="31.399999999999977" height="15.799999999999955" fill="#dbdbdb"/>
<line x1="292.8" y1="432.4" x2="431.0" y2="432.4" stroke="#444" stroke-width="1"/>
<line x1="292.8" y1="447.8" x2="431.0" y2="447.8" stroke="#444" stroke-width="1"/>
<line x1="292.8" y1="460.0" x2="431.0" y2="460.0" stroke="#444" stroke-width="1"/>
<line x1="292.8" y1="432.4" x2="292.8" y2="539.3" stroke="#444" stroke-width="1"/>
<line x1="431.0" y1="432.4" x2="431.0" y2="539.3" stroke="#444" stroke-width="1"/>
<line x1="324.6" y1="447.8" x2="324.6" y2="539.3" stroke="#444" stroke-width="1"/>
<line x1="362.0" y1="447.8" x2="362.0" y2="539.3" stroke="#444" stroke-width="1"/>
<line x1="399.6" y1="447.8" x2="399.6" y2="539.3" stroke="#444" stroke-width="1"/>
<line x1="223.5" y1="460.0" x2="292.8" y2="460.0" stroke="#444" stroke-width="1"/>
<line x1="223.5" y1="460.0" x2="223.5" y2="539.3" stroke="#444" stroke-width="1"/>
<line x1="252.5" y1="460.0" x2="252.5" y2="539.3" stroke="#444" stroke-width="1"/>
<line x1="223.5" y1="539.3" x2="431.0" y2="539.3" stroke="#444" stroke-width="1"/>
<line x1="252.5" y1="475.8" x2="431.0" y2="475.8" stroke="#444" stroke-width="1"/>
<line x1="252.5" y1="491.8" x2="431.0" y2="491.8" stroke="#444" stroke-width="1"/>
<line x1="252.5" y1="507.6" x2="431.0" y2="507.6" stroke="#444" stroke-width="1"/>
<line x1="252.5" y1="523.5" x2="431.0" y2="523.5" stroke="#444" stroke-width="1"/>
<text x="361.9" y="442" text-anchor="middle" style="font-size:8.5px;" fill="#111" font-family='"Liberation Sans", sans-serif' >Mutant genes</text>
<text x="308.70000000000005" y="457" text-anchor="middle" style="font-size:7.8px;font-style:italic;" fill="#111" font-family='"Liberation Sans", sans-serif' class="tb">U2AF1</text>
<text x="343.3" y="457" text-anchor="middle" style="font-size:7.8px;font-style:italic;" fill="#111" font-family='"Liberation Sans", sans-serif' class="tb">U2AF26</text>
<text x="380.8" y="457" text-anchor="middle" style="font-size:7.8px;font-style:italic;" fill="#111" font-family='"Liberation Sans", sans-serif' class="tb">SRSF2</text>
<text x="415.3" y="457" text-anchor="middle" style="font-size:7.8px;font-style:italic;" fill="#111" font-family='"Liberation Sans", sans-serif' class="tb">SF3B1</text>
<text x="272.65" y="471.0" text-anchor="middle" style="font-size:7.8px;font-style:italic;" fill="#111" font-family='"Liberation Sans", sans-serif' class="tb">TET2</text>
<text x="272.65" y="486.8" text-anchor="middle" style="font-size:7.8px;font-style:italic;" fill="#111" font-family='"Liberation Sans", sans-serif' class="tb">RUNX1</text>
<text x="272.65" y="502.8" text-anchor="middle" style="font-size:7.8px;font-style:italic;" fill="#111" font-family='"Liberation Sans", sans-serif' class="tb">TP53</text>
<text x="272.65" y="518.6" text-anchor="middle" style="font-size:7.8px;font-style:italic;" fill="#111" font-family='"Liberation Sans", sans-serif' class="tb">FECH</text>
<text x="272.65" y="534.5" text-anchor="middle" style="font-size:7.8px;font-style:italic;" fill="#111" font-family='"Liberation Sans", sans-serif' class="tb">GAPDH</text>
<text x="238" y="498" text-anchor="middle" style="font-size:7.6px;" fill="#111" font-family='"Liberation Sans", sans-serif' >Spliced</text>
<text x="238" y="507.5" text-anchor="middle" style="font-size:7.6px;" fill="#111" font-family='"Liberation Sans", sans-serif' >genes</text>
<rect x="437.3" y="459.8" width="78.5" height="16.19999999999999" fill="#fbfbcb" stroke="#555" stroke-width="1.2"/>
<text x="476.6" y="471.2" text-anchor="middle" style="font-size:7.2px;font-weight:bold;" fill="#000" font-family='"Liberation Sans", sans-serif' >Unsplicing</text>
<rect x="437.3" y="491.6" width="78.5" height="16.19999999999999" fill="#ccf0fb" stroke="#555" stroke-width="1.2"/>
<text x="476.6" y="503.00000000000006" text-anchor="middle" style="font-size:7.2px;font-weight:bold;" fill="#000" font-family='"Liberation Sans", sans-serif' >Exon skipping</text>
<rect x="437.3" y="523.4" width="78.5" height="16.399999999999977" fill="#dbdbdb" stroke="#555" stroke-width="1.2"/>
<text x="476.6" y="534.8999999999999" text-anchor="middle" style="font-size:7.2px;font-weight:bold;" fill="#000" font-family='"Liberation Sans", sans-serif' >Normal splicing</text>
</svg></body></html>
